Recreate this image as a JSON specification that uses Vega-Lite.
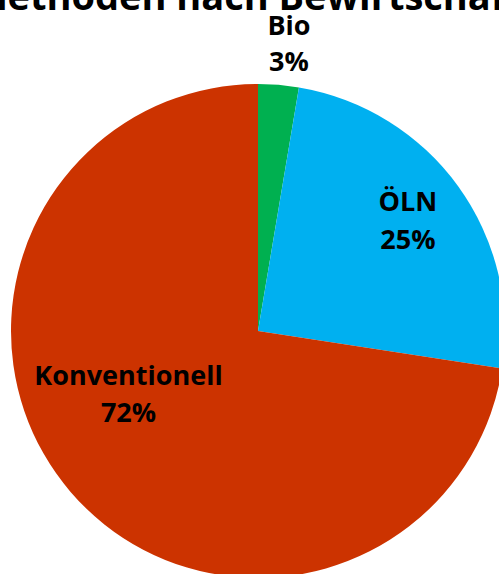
{
  "$schema": "https://vega.github.io/schema/vega-lite/v6.json",
  "autosize": {"type": "none"},
  "padding": 0,
  "width": 516,
  "height": 662,
  "background": "white",
  "title": {
    "text": "Anbaumethoden nach Bewirtschaftungsart",
    "font": "Open Sans",
    "fontSize": 38,
    "fontWeight": "bold",
    "color": "black",
    "anchor": "middle",
    "offset": -18,
    "dx": 0
  },
  "data": {
    "values": [
      {"category": "Bio", "value": 2.65, "n": 1, "label": "Bio\n3%"},
      {"category": "ÖLN", "value": 24.77, "n": 2, "label": "ÖLN\n25%"},
      {"category": "Konventionell", "value": 72.58, "n": 3, "label": "Konventionell\n72%"}
    ]
  },
  "encoding": {
    "theta": {"field": "value", "type": "quantitative", "stack": true},
    "order": {"field": "n", "type": "ordinal"}
  },
  "layer": [
    {
      "mark": {"type": "arc", "outerRadius": 247},
      "encoding": {
        "color": {
          "field": "category",
          "type": "nominal",
          "scale": {"domain": ["Bio", "ÖLN", "Konventionell"], "range": ["#00B050", "#00B0F0", "#CC3300"]},
          "legend": null
        }
      }
    },
    {
      "mark": {"type": "text", "radius": 288, "dx": 7, "dy": -17, "font": "Open Sans", "fontWeight": "bold", "fontSize": 27, "lineBreak": "\n", "lineHeight": 36, "align": "center", "baseline": "middle", "color": "black"},
      "encoding": {
        "detail": {"field": "category", "type": "nominal"},
        "text": {"condition": {"test": "datum.category === 'Bio'", "field": "label"}, "value": ""}
      }
    },
    {
      "mark": {"type": "text", "radius": 185, "dy": -20, "font": "Open Sans", "fontWeight": "bold", "fontSize": 27, "lineBreak": "\n", "lineHeight": 38, "align": "center", "baseline": "middle", "color": "black"},
      "encoding": {
        "detail": {"field": "category", "type": "nominal"},
        "text": {"condition": {"test": "datum.category === 'ÖLN'", "field": "label"}, "value": ""}
      }
    },
    {
      "mark": {"type": "text", "radius": 143, "dx": -21, "dy": -47, "font": "Open Sans", "fontWeight": "bold", "fontSize": 27, "lineBreak": "\n", "lineHeight": 37, "align": "center", "baseline": "middle", "color": "black"},
      "encoding": {
        "detail": {"field": "category", "type": "nominal"},
        "text": {"condition": {"test": "datum.category === 'Konventionell'", "field": "label"}, "value": ""}
      }
    }
  ]
}
